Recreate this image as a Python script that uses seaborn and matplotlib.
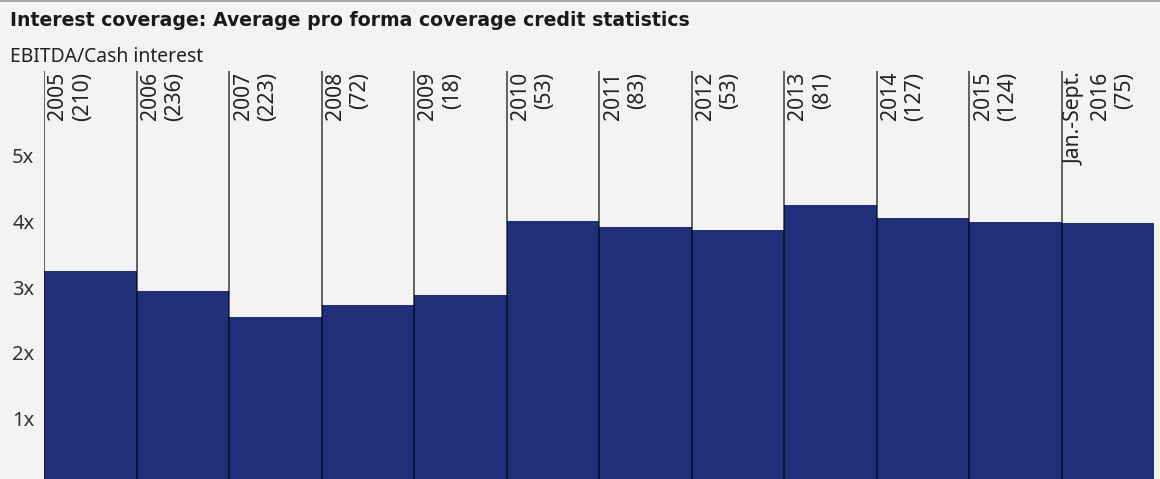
import matplotlib
matplotlib.use("Agg")
import matplotlib.pyplot as plt
import matplotlib.transforms as mtransforms
from matplotlib.patches import Rectangle
import seaborn as sns
import pandas as pd

# ---- data ----
periods = ["2005", "2006", "2007", "2008", "2009", "2010", "2011", "2012",
           "2013", "2014", "2015", "Jan.-Sept.\n2016"]
deal_counts = [210, 236, 223, 72, 18, 53, 83, 53, 81, 127, 124, 75]
coverage = [3.24, 2.94, 2.54, 2.72, 2.88, 4.01, 3.91, 3.87, 4.25, 4.06, 3.99, 3.98]
ytick_values = [1, 2, 3, 4, 5]
ytick_labels = ["1x", "2x", "3x", "4x", "5x"]

title = "Interest coverage: Average pro forma coverage credit statistics"
subtitle = "EBITDA/Cash interest"

df = pd.DataFrame({"period": periods, "coverage": coverage})

BG = "#f3f3f3"
BAR = "#22307b"
FONT = "Noto Sans"

sns.set_theme(style="white")
plt.rcParams["font.family"] = [FONT, "DejaVu Sans"]

W, H = 1160, 479
fig = plt.figure(figsize=(W / 100, H / 100), dpi=100, facecolor=BG)

left_px, right_px = 44, 1154
zero_px, top_px = 483.9, 71
unit_px = 65.6
ax = fig.add_axes([left_px / W, (H - zero_px) / H,
                   (right_px - left_px) / W, (zero_px - top_px) / H])
ax.set_facecolor(BG)

sns.barplot(data=df, x="period", y="coverage", color=BAR, width=1.0,
            saturation=1, edgecolor="none", linewidth=0, ax=ax)

ymax = (zero_px - top_px) / unit_px
ax.set_xlim(-0.5, len(periods) - 0.5)
ax.set_ylim(0, ymax)
for s in ax.spines.values():
    s.set_visible(False)
ax.set_xticks([])
ax.set_xlabel("")
ax.set_ylabel("")
ax.set_yticks(ytick_values)
ax.set_yticklabels(ytick_labels, fontsize=14.5, color="#333333")
ax.tick_params(axis="y", length=0, pad=7)

# separators and labels
for i, (p, n) in enumerate(zip(periods, deal_counts)):
    ax.axvline(i - 0.5, color="black", alpha=0.65, lw=1.3, zorder=3)
    trans = mtransforms.offset_copy(ax.transData, fig=fig, x=3.5, y=-1, units="dots")
    ax.text(i - 0.5, ymax, f"{p}\n({n})", transform=trans, rotation=90,
            ha="left", va="top", multialignment="right",
            fontsize=15.2, color="#222222", linespacing=1.22)

fig.text(10 / W, 1 - 20 / H, title, fontsize=13.6, fontweight="bold",
         family=["DejaVu Sans"], color="#1a1a1a", va="center", ha="left")
fig.text(10 / W, 1 - 57 / H, subtitle, fontsize=13.9, color="#222222",
         va="center", ha="left")

fig.patches.append(Rectangle((0, 1 - 1.5 / H), 1, 1.5 / H, transform=fig.transFigure,
                             facecolor="#a8a8a8", edgecolor="none", zorder=5))

fig.savefig("out.png", dpi=100, facecolor=BG)
